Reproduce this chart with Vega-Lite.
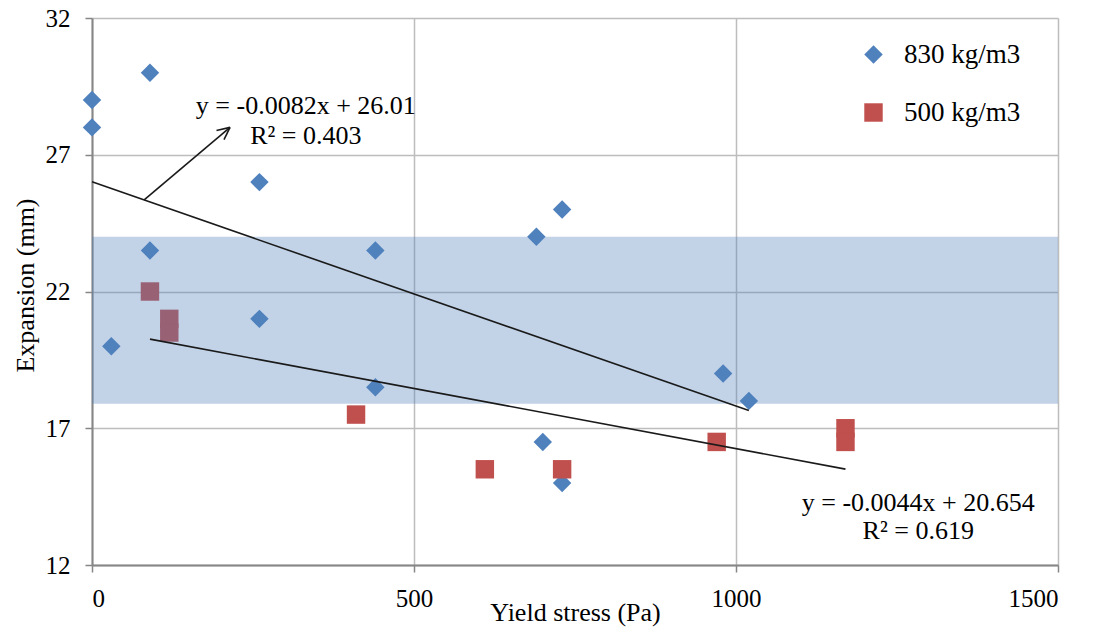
{
  "$schema": "https://vega.github.io/schema/vega-lite/v6.json",
  "width": 966,
  "height": 547,
  "autosize": "none",
  "padding": {"left": 92, "top": 18, "right": 37, "bottom": 65},
  "background": "white",
  "datasets": {
    "points": [
      {"series": "830 kg/m3", "stress": 0, "expansion": 29},
      {"series": "830 kg/m3", "stress": 0, "expansion": 28},
      {"series": "830 kg/m3", "stress": 90, "expansion": 30},
      {"series": "830 kg/m3", "stress": 30, "expansion": 20},
      {"series": "830 kg/m3", "stress": 90, "expansion": 23.5},
      {"series": "830 kg/m3", "stress": 260, "expansion": 26},
      {"series": "830 kg/m3", "stress": 260, "expansion": 21},
      {"series": "830 kg/m3", "stress": 440, "expansion": 23.5},
      {"series": "830 kg/m3", "stress": 440, "expansion": 18.5},
      {"series": "830 kg/m3", "stress": 690, "expansion": 24},
      {"series": "830 kg/m3", "stress": 730, "expansion": 25},
      {"series": "830 kg/m3", "stress": 700, "expansion": 16.5},
      {"series": "830 kg/m3", "stress": 730, "expansion": 15},
      {"series": "830 kg/m3", "stress": 980, "expansion": 19},
      {"series": "830 kg/m3", "stress": 1020, "expansion": 18},
      {"series": "500 kg/m3", "stress": 90, "expansion": 22},
      {"series": "500 kg/m3", "stress": 120, "expansion": 21},
      {"series": "500 kg/m3", "stress": 120, "expansion": 20.5},
      {"series": "500 kg/m3", "stress": 410, "expansion": 17.5},
      {"series": "500 kg/m3", "stress": 610, "expansion": 15.5},
      {"series": "500 kg/m3", "stress": 730, "expansion": 15.5},
      {"series": "500 kg/m3", "stress": 970, "expansion": 16.5},
      {"series": "500 kg/m3", "stress": 1170, "expansion": 17},
      {"series": "500 kg/m3", "stress": 1170, "expansion": 16.5}
    ],
    "band": [
      {"x0": 0, "x1": 1500, "y0": 17.9, "y1": 24}
    ],
    "trend": [
      {"fit": "830", "stress": 0, "expansion": 26.01},
      {"fit": "830", "stress": 1020, "expansion": 17.646},
      {"fit": "500", "stress": 90, "expansion": 20.258},
      {"fit": "500", "stress": 1170, "expansion": 15.506}
    ],
    "arrow": [
      {"seg": "shaft", "stress": 81, "expansion": 25.35},
      {"seg": "shaft", "stress": 214.3, "expansion": 28.0},
      {"seg": "wing1", "stress": 193.3, "expansion": 27.89},
      {"seg": "wing1", "stress": 214.3, "expansion": 28.0},
      {"seg": "wing2", "stress": 205, "expansion": 27.55},
      {"seg": "wing2", "stress": 214.3, "expansion": 28.0}
    ],
    "labels": [
      {"stress": 332, "expansion": 28.8, "text": "y = -0.0082x + 26.01"},
      {"stress": 332, "expansion": 27.7, "text": "R² = 0.403"},
      {"stress": 1283, "expansion": 14.27, "text": "y = -0.0044x + 20.654"},
      {"stress": 1283, "expansion": 13.24, "text": "R² = 0.619"}
    ]
  },
  "layer": [
    {
      "data": {"name": "points"},
      "mark": {"type": "point", "filled": true, "size": 340, "opacity": 1},
      "encoding": {
        "x": {
          "field": "stress", "type": "quantitative",
          "scale": {"domain": [0, 1500], "nice": false, "zero": false},
          "axis": {
            "values": [0, 500, 1000, 1500],
            "format": "d",
            "title": "Yield stress (Pa)",
            "titleY": 55, "titleBaseline": "alphabetic",
            "labelPadding": 14, "tickSize": 7
          }
        },
        "y": {
          "field": "expansion", "type": "quantitative",
          "scale": {"domain": [12, 32], "nice": false, "zero": false},
          "axis": {
            "values": [12, 17, 22, 27, 32],
            "format": "d",
            "title": "Expansion (mm)",
            "titleX": -59, "titleY": 267, "titleBaseline": "alphabetic", "titleAngle": -90,
            "labelPadding": 15, "tickSize": 7
          }
        },
        "color": {
          "field": "series", "type": "nominal",
          "scale": {"domain": ["830 kg/m3", "500 kg/m3"], "range": ["#4F81BD", "#C0504D"]},
          "legend": {
            "orient": "none", "legendX": 768, "legendY": 23, "title": null,
            "padding": 0, "symbolSize": 340, "labelOffset": 17, "rowPadding": 30,
            "labelFont": "Liberation Serif, Times New Roman, serif", "labelFontSize": 27, "labelColor": "black",
            "symbolOpacity": 1
          }
        },
        "shape": {
          "field": "series", "type": "nominal",
          "scale": {"domain": ["830 kg/m3", "500 kg/m3"], "range": ["diamond", "square"]},
          "legend": null
        }
      }
    },
    {
      "data": {"name": "band"},
      "mark": {"type": "rect", "color": "#4F81BD", "opacity": 0.35},
      "encoding": {
        "x": {"field": "x0", "type": "quantitative"},
        "x2": {"field": "x1"},
        "y": {"field": "y0", "type": "quantitative"},
        "y2": {"field": "y1"}
      }
    },
    {
      "data": {"name": "trend"},
      "mark": {"type": "line", "color": "#1a1a1a", "strokeWidth": 1.6},
      "encoding": {
        "x": {"field": "stress", "type": "quantitative"},
        "y": {"field": "expansion", "type": "quantitative"},
        "detail": {"field": "fit", "type": "nominal"}
      }
    },
    {
      "data": {"name": "arrow"},
      "mark": {"type": "line", "color": "#1a1a1a", "strokeWidth": 1.6},
      "encoding": {
        "x": {"field": "stress", "type": "quantitative"},
        "y": {"field": "expansion", "type": "quantitative"},
        "detail": {"field": "seg", "type": "nominal"}
      }
    },
    {
      "data": {"name": "labels"},
      "mark": {"type": "text", "font": "Liberation Serif, Times New Roman, serif", "fontSize": 26, "color": "black", "align": "center", "baseline": "middle"},
      "encoding": {
        "x": {"field": "stress", "type": "quantitative"},
        "y": {"field": "expansion", "type": "quantitative"},
        "text": {"field": "text"}
      }
    }
  ],
  "config": {
    "view": {"stroke": null},
    "axis": {
      "labelFont": "Liberation Serif, Times New Roman, serif", "labelFontSize": 25, "labelColor": "black",
      "titleFont": "Liberation Serif, Times New Roman, serif", "titleFontSize": 26, "titleFontWeight": "normal", "titleColor": "black",
      "gridColor": "#BDBDBD", "gridWidth": 1.5,
      "domainColor": "#868686", "domainWidth": 2,
      "tickColor": "#868686", "tickWidth": 1.5
    }
  }
}
